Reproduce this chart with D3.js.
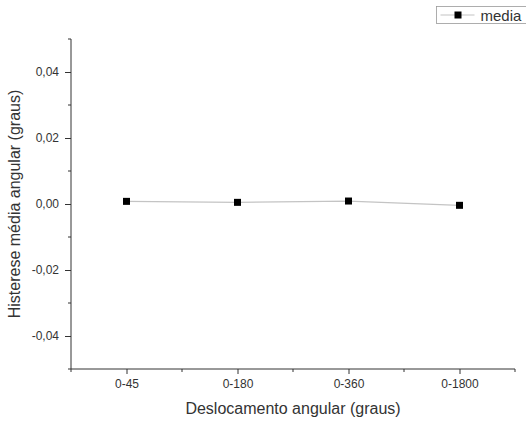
<!DOCTYPE html>
<html>
<head>
<meta charset="utf-8">
<script src="https://cdn.jsdelivr.net/npm/d3@7"></script>
<style>
  body { margin: 0; background: #fff; }
  svg text { font-family: "Liberation Sans", Arial, sans-serif; fill: #333; }
</style>
</head>
<body>
<div id="root"></div>
<script>
const w = 526, h = 422

// data
const categories = ["0-45", "0-180", "0-360", "0-1800"]
const media = [0.0008, 0.0005, 0.0009, -0.0004]
const yTicks = [-0.04, -0.02, 0, 0.02, 0.04]
const yMinor = [-0.05, -0.03, -0.01, 0.01, 0.03, 0.05]
const seriesName = "media"

const mLeft = 71, mRight = 515, mTop = 39, mBottom = 369

const x = d3.scaleLinear()
    .domain([-0.5, categories.length - 0.5])
    .range([mLeft, mRight])

const y = d3.scaleLinear()
    .domain([-0.05, 0.05])
    .range([mBottom, mTop])

const fmt = d => d3.format(".2f")(d).replace(".", ",").replace("−", "-")

const svg = d3.select("#root").append("svg")
    .attr("width", w)
    .attr("height", h)

// y axis
const yAxis = svg.append("g")
    .attr("transform", `translate(${mLeft},0)`)
    .call(d3.axisLeft(y).tickValues(yTicks).tickSize(6).tickPadding(6).tickFormat(fmt))
yAxis.selectAll("text").attr("font-size", 12)
yAxis.select(".domain").attr("d", `M0,${mTop}V${mBottom}`).attr("stroke", "#333")
yAxis.selectAll(".tick line").attr("stroke", "#333")

svg.append("g").selectAll("line").data(yMinor).enter().append("line")
    .attr("x1", mLeft - 3).attr("x2", mLeft)
    .attr("y1", d => y(d)).attr("y2", d => y(d))
    .attr("stroke", "#333")

// x axis
const xAxis = svg.append("g")
    .attr("transform", `translate(0,${mBottom})`)
    .call(d3.axisBottom(x).tickValues(d3.range(categories.length)).tickSize(5).tickPadding(5)
        .tickFormat(i => categories[i]))
xAxis.selectAll("text").attr("font-size", 12)
xAxis.select(".domain").attr("d", `M${mLeft},0H${mRight}`).attr("stroke", "#333")
xAxis.selectAll(".tick line").attr("stroke", "#333")

svg.append("g").selectAll("line").data(d3.range(-0.5, categories.length, 1)).enter().append("line")
    .attr("x1", d => x(d)).attr("x2", d => x(d))
    .attr("y1", mBottom).attr("y2", mBottom + 3)
    .attr("stroke", "#333")

// axis titles
svg.append("text")
    .attr("x", 293)
    .attr("y", 414)
    .attr("text-anchor", "middle")
    .attr("font-size", 16)
    .text("Deslocamento angular (graus)")

svg.append("text")
    .attr("transform", `translate(20,${(mTop + mBottom) / 2}) rotate(-90)`)
    .attr("text-anchor", "middle")
    .attr("font-size", 16)
    .text("Histerese média angular (graus)")

// series
const line = d3.line()
    .x((d, i) => x(i))
    .y(d => y(d))

svg.append("path")
    .datum(media)
    .attr("fill", "none")
    .attr("stroke", "#c4c4c4")
    .attr("stroke-width", 1.2)
    .attr("d", line)

svg.selectAll("rect.pt").data(media).enter().append("rect")
    .attr("class", "pt")
    .attr("x", (d, i) => x(i) - 3.5)
    .attr("y", d => y(d) - 3.5)
    .attr("width", 7)
    .attr("height", 7)
    .attr("fill", "#000")

// legend
const lg = svg.append("g").attr("transform", "translate(436.5,6.5)")
lg.append("rect")
    .attr("width", 90).attr("height", 17)
    .attr("fill", "#fff").attr("stroke", "#999").attr("stroke-width", 0.8)
lg.append("line")
    .attr("x1", 4).attr("x2", 38).attr("y1", 8.5).attr("y2", 8.5)
    .attr("stroke", "#c4c4c4").attr("stroke-width", 1.2)
lg.append("rect")
    .attr("x", 18).attr("y", 5).attr("width", 7).attr("height", 7).attr("fill", "#000")
lg.append("text")
    .attr("x", 44).attr("y", 14)
    .attr("font-size", 15)
    .text(seriesName)
</script>
</body>
</html>
